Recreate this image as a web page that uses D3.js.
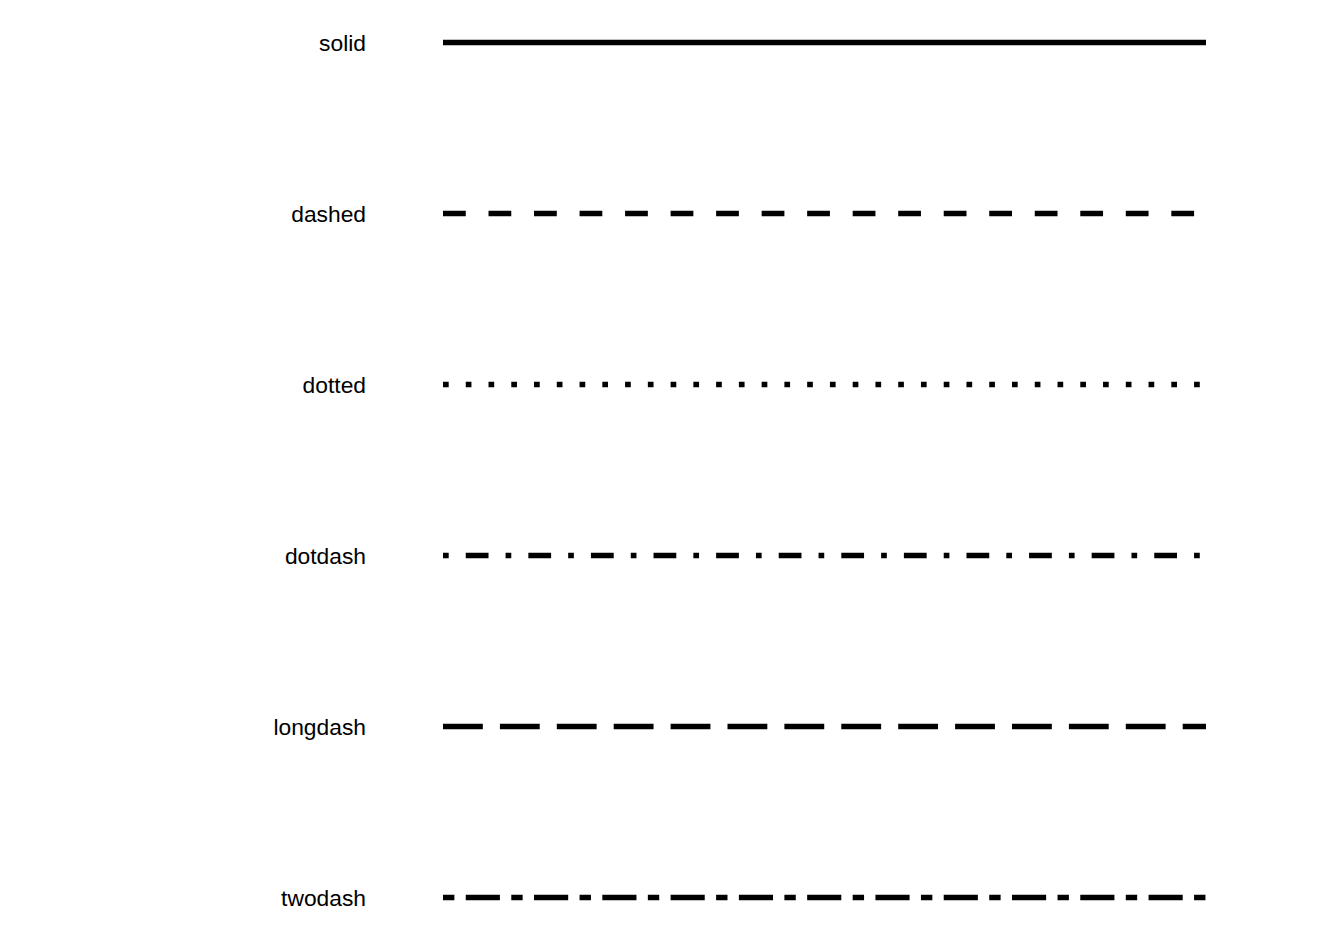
<!DOCTYPE html>
<html lang="en">
<head>
<meta charset="UTF-8">
<title>linetypes</title>
<style>
  body { margin: 0; background: #fff; }
  text { font-family: "Liberation Sans", Arial, Helvetica, sans-serif; }
</style>
</head>
<body>
<script src="https://d3js.org/d3.v7.min.js"></script>
<script>
// linetype names, top to bottom
var linetypes = ['solid', 'dashed', 'dotted', 'dotdash', 'longdash', 'twodash'];
// R lty hex strings for each linetype (units scaled by line width)
var ltyCodes = ['', '44', '13', '1343', '73', '2262'];
// each segment goes from x = 0 to x = 1
var xStart = [0, 0, 0, 0, 0, 0];
var xEnd = [1, 1, 1, 1, 1, 1];

var width = 1344, height = 940;
var lw = 5.69;

var svg = d3.select('body').append('svg')
    .attr('width', width)
    .attr('height', height);

var x = d3.scaleLinear().domain([0, 1]).range([443, 1206]);
var y = d3.scalePoint().domain(linetypes).range([42.5, 897.5]);

function dashArray(code) {
    if (!code) return null;
    return code.split('').map(function (c) { return parseInt(c, 16) * lw; }).join(',');
}

var rows = linetypes.map(function (d, i) {
    return { name: d, code: ltyCodes[i], x0: xStart[i], x1: xEnd[i] };
});

svg.selectAll('line.seg').data(rows).enter().append('line')
    .attr('class', 'seg')
    .attr('x1', function (d) { return x(d.x0); })
    .attr('x2', function (d) { return x(d.x1); })
    .attr('y1', function (d) { return y(d.name); })
    .attr('y2', function (d) { return y(d.name); })
    .attr('stroke', '#000')
    .attr('stroke-width', lw)
    .attr('stroke-linecap', 'butt')
    .attr('stroke-dasharray', function (d) { return dashArray(d.code); });

svg.selectAll('text.lab').data(rows).enter().append('text')
    .attr('class', 'lab')
    .attr('x', 366)
    .attr('y', function (d) { return y(d.name) + 8.2; })
    .attr('text-anchor', 'end')
    .attr('font-size', 22.8)
    .attr('fill', '#000')
    .text(function (d) { return d.name; });
</script>
</body>
</html>
